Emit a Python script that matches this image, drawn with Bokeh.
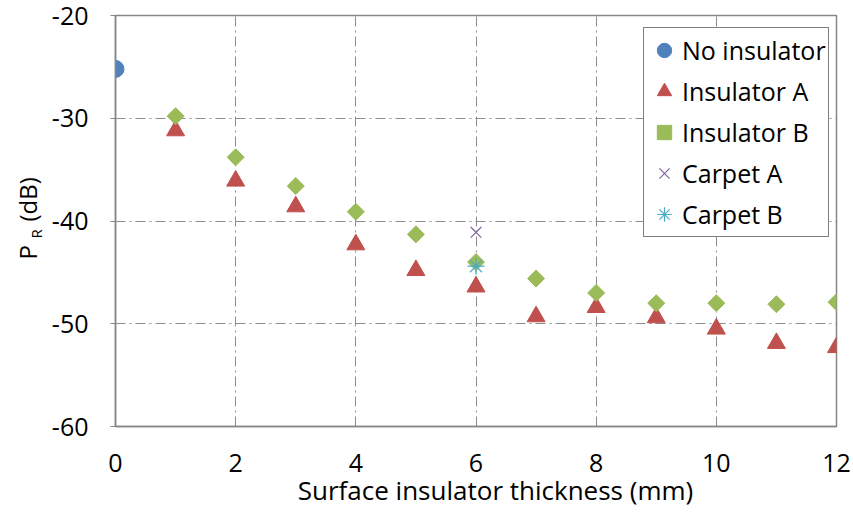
from bokeh.plotting import figure
from bokeh.models import Legend, LegendItem, FixedTicker, Label, Range1d
from bokeh.layouts import row
from bokeh.embed import file_html
from bokeh.resources import INLINE
import math

# ---- data ----
x_none = [0]
y_none = [-25.2]

x_ins = [1, 2, 3, 4, 5, 6, 7, 8, 9, 10, 11, 12]
y_ins_a = [-31.2, -36.1, -38.6, -42.3, -44.8, -46.4, -49.3, -48.4, -49.4, -50.5, -51.9, -52.3]
y_ins_b = [-29.8, -33.8, -36.6, -39.1, -41.3, -44.0, -45.6, -47.0, -48.0, -48.0, -48.1, -47.9]

x_carpet = [6]
y_carpet_a = [-41.1]
y_carpet_b = [-44.4]

x_ticks = [0, 2, 4, 6, 8, 10, 12]
y_ticks = [-60, -50, -40, -30, -20]

FONT = "Open Sans"
FS = "25px"
STRIP = 46

p = figure(width=853 - STRIP, height=520, x_range=(0, 12), y_range=(-60, -20),
           output_backend="svg", toolbar_location=None,
           min_border_left=115 - STRIP, min_border_right=17, min_border_top=15, min_border_bottom=94)

p.background_fill_color = "white"
p.border_fill_color = "white"
p.outline_line_color = "#868686"
p.outline_line_width = 1.5

# axes
p.xaxis.ticker = FixedTicker(ticks=x_ticks)
p.yaxis.ticker = FixedTicker(ticks=y_ticks)
p.yaxis.major_label_overrides = {t: "%d" % t for t in y_ticks}
for ax in (p.xaxis[0], p.yaxis[0]):
    ax.axis_line_color = "#868686"
    ax.axis_line_width = 1.5
    ax.major_tick_line_color = "#868686"
    ax.minor_tick_line_color = None
    ax.major_label_text_font = FONT
    ax.major_label_text_font_size = FS
    ax.major_label_text_color = "black"
    ax.axis_label_text_font = FONT
    ax.axis_label_text_font_size = "26px"
    ax.axis_label_text_font_style = "normal"
    ax.axis_label_text_color = "black"
p.xaxis.major_tick_out = 0
p.xaxis.major_tick_in = 0
p.xaxis.major_label_standoff = 27
p.xaxis.axis_label = "\u2002\u2002\u2002Surface insulator thickness (mm)"
p.xaxis.axis_label_standoff = -3
p.yaxis.major_tick_out = 5
p.yaxis.major_tick_in = 0
p.yaxis.major_label_standoff = 22

# grid
p.xgrid.ticker = FixedTicker(ticks=[2, 4, 6, 8, 10])
p.ygrid.ticker = FixedTicker(ticks=[-30, -40, -50])
for g in (p.xgrid[0], p.ygrid[0]):
    g.grid_line_color = "#8c8c8c"
    g.grid_line_width = 1
    g.grid_line_dash = "10 4 2 4"

# series
r0 = p.scatter(x_none, y_none, marker="circle", size=17, fill_color="#4F81BD", line_color="#4F81BD")
r1 = p.scatter(x_ins, y_ins_a, marker="triangle", size=18, fill_color="#C0504D", line_color="#C0504D")
r2 = p.scatter(x_ins, y_ins_b, marker="square", angle=math.pi / 4, size=12,
               fill_color="#9BBB59", line_color="#9BBB59")
r3 = p.scatter(x_carpet, y_carpet_a, marker="x", size=15, line_color="#8064A2", line_width=1.2)
r4 = p.scatter(x_carpet, y_carpet_b, marker="asterisk", size=17, line_color="#4BACC6", line_width=1.2)

legend = Legend(items=[
    LegendItem(label="No insulator", renderers=[r0]),
    LegendItem(label="Insulator A", renderers=[r1]),
    LegendItem(label="Insulator B", renderers=[r2]),
    LegendItem(label="Carpet A", renderers=[r3]),
    LegendItem(label="Carpet B", renderers=[r4]),
], location=(528, 189))
legend.label_text_font = FONT
legend.label_text_font_size = FS
legend.label_text_color = "black"
legend.glyph_width = 36
legend.glyph_height = 40
legend.label_height = 40
legend.spacing = 1
legend.padding = 2
legend.margin = 0
legend.label_standoff = -3
legend.border_line_color = "black"
legend.border_line_width = 1
legend.background_fill_color = "white"
legend.background_fill_alpha = 1
p.add_layout(legend, "center")

# narrow strip on the left holding the y-axis title: P with subscript R, then (dB)
# (its frame is aligned with the main frame, so its y range runs over the frame's pixel rows)
t = figure(width=STRIP, height=520, x_range=Range1d(0, STRIP), y_range=Range1d(426, 15),
           output_backend="svg", toolbar_location=None, x_axis_type=None, y_axis_type=None,
           min_border_left=0, min_border_right=0, min_border_top=15, min_border_bottom=94)
t.grid.visible = False
t.outline_line_color = None
t.background_fill_color = "white"
t.border_fill_color = "white"
ylab = [("P", 27, 259, "24px"), ("R", 35, 238, "15px"), ("(dB)", 27, 221, "24px")]
for txt, lx, ly, fs in ylab:
    t.add_layout(Label(x=lx, y=ly, text=txt, angle=math.pi / 2, text_font=FONT,
                       text_font_size=fs, text_baseline="alphabetic", text_align="left",
                       text_color="black"))

layout = row(t, p, spacing=0)
open("out.html", "w").write(file_html(layout, INLINE))
